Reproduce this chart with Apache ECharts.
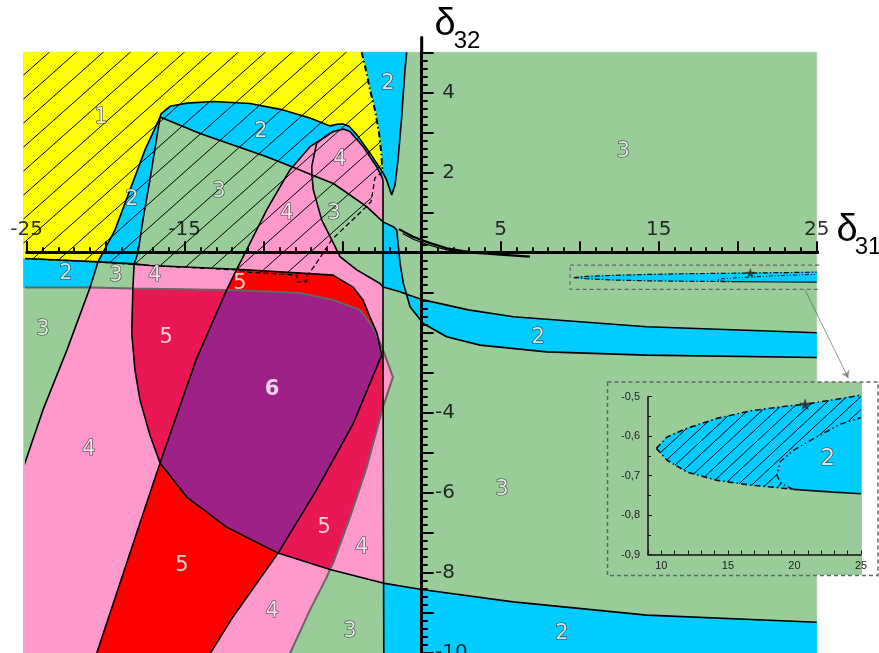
<!DOCTYPE html>
<html>
<head>
<meta charset="utf-8">
<script src="https://cdn.jsdelivr.net/npm/echarts@6/dist/echarts.min.js"></script>
<style>
  html, body { margin: 0; padding: 0; background: #fff; }
  #chart { width: 879px; height: 653px; }
</style>
</head>
<body>
<div id="chart"></div>
<script>
// tick labels that are printed on the axes
const xLabels = [-25, -15, 5, 15, 25];
const yLabels = [4, 2, -4, -6, -8, -10];

// boundary curves, [delta31, delta32] pairs
const curveC1 = [[-16.56,3.38],[-17.20,1.81],[-17.61,0.89],[-17.96,-0.02],[-18.20,-0.29],[-18.28,-0.905],[-18.35,-2.02],[-18.15,-2.94],[-17.83,-3.69],[-17.20,-4.57],[-16.56,-5.27],[-14.87,-6.12],[-12.34,-6.87],[-9.09,-7.52],[-5.80,-7.93],[-2.45,-8.27],[0,-8.43],[5.78,-8.74],[14.24,-9.07],[25,-9.25]];
const curveC2 = [[-16.56,3.38],[-17.51,2.56],[-18.46,1.56],[-19.41,0.56],[-20.49,-0.24],[-20.99,-0.88],[-22.45,-2.44],[-23.97,-3.94],[-25.2,-5.37]];
const curveC3 = [[-16.56,3.38],[-16.50,3.46],[-15.93,3.65],[-14.85,3.73],[-13.21,3.77],[-10.87,3.72],[-8.78,3.56],[-7.07,3.36],[-5.80,3.16],[-5.36,3.20],[-4.98,3.21],[-4.60,3.15],[-4.09,2.93],[-3.27,2.48],[-2.48,2.01]];
const curveC4 = [[-16.56,3.38],[-14.03,2.97],[-11.94,2.68],[-9.81,2.39],[-7.70,2.06],[-6.95,1.93],[-5.59,1.72],[-3.48,1.14],[-2.45,0.76],[-1.80,0.64],[-1.58,0.56]];
const curveC5 = [[-5.75,2.99],[-6.65,2.73],[-6.96,2.14],[-6.95,1.93],[-6.86,1.56],[-6.33,0.81],[-5.59,0.23],[-5.17,-0.11],[-4.11,-0.44],[-2.64,-0.78],[-2.45,-0.87],[-1.37,-0.985],[-0.96,-1.05],[0.10,-1.19],[2.95,-1.44],[5.80,-1.61],[14.24,-1.86],[25,-2.01]];
const curveC6 = [[-2.45,1.81],[-2.45,-2.5],[-2.40,-10.05]];
const curveC7 = [[-2.45,1.81],[-2.53,1.89],[-2.85,2.14],[-3.70,2.64],[-4.54,3.02],[-4.96,3.08],[-5.59,3.02],[-7.07,2.64],[-8.34,2.06],[-9.81,1.06],[-11.08,0.06],[-11.71,-0.425],[-12.34,-0.94],[-14.28,-2.69],[-16.56,-5.27],[-17.83,-6.77],[-20.59,-10.05]];
const curveC10 = [[-25.2,-0.155],[-20.49,-0.24],[-18.20,-0.29],[-17.20,-0.33],[-11.71,-0.425],[-7.70,-0.52],[-5.61,-0.57],[-4.35,-0.87],[-3.72,-1.19],[-3.27,-1.62],[-2.83,-2.02],[-2.53,-2.57],[-4.33,-4.28],[-6.65,-5.94],[-9.09,-7.52],[-11.94,-9.11],[-13.42,-10.05]];
const grayCurve = [[-25.2,-0.88],[-20.99,-0.88],[-18.28,-0.905],[-12.34,-0.94],[-11.94,-0.94],[-7.70,-1.02],[-5.61,-1.19],[-3.91,-1.44],[-3.08,-1.87],[-2.77,-2.14],[-2.45,-2.44],[-1.82,-3.12],[-2.45,-3.87],[-3.48,-5.37],[-4.54,-6.62],[-5.61,-7.77],[-5.80,-7.93],[-6.01,-8.12],[-7.07,-8.94],[-8.36,-10.05]];
const curveE = [[-1.58,0.56],[-1.37,-0.27],[-1.16,-0.78],[-0.96,-1.05],[-0.74,-1.36],[0.10,-1.78],[1.58,-2.11],[3.69,-2.32],[7.91,-2.49],[14.24,-2.57],[25,-2.63]];
const spikeEdge = [[-2.48,2.01],[-2.22,1.81],[-1.90,1.43],[-1.69,1.68],[-1.50,2.31],[-1.28,3.31],[-1.15,4.06],[-1.06,4.56],[-0.95,5]];
const yellowEdge = [[-3.80,5],[-3.53,4.56],[-3.27,4.06],[-2.96,3.56],[-2.70,2.98],[-2.58,2.56],[-2.48,2.01]];
const hatchEdge = [[-2.48,2.01],[-2.96,1.86],[-3.08,1.56],[-3.21,1.26],[-3.59,1.11],[-5.70,0.31],[-6.33,-0.07],[-6.75,-0.32],[-7.07,-0.49],[-7.26,-0.57],[-7.26,-0.74],[-7.89,-0.74],[-7.89,-0.57],[-10.87,-0.50],[-11.71,-0.44],[-17.20,-0.33],[-20.49,-0.24],[-25.2,-0.155]];
const curveC12a = [[-1.44,0.58],[-0.55,0.39],[0.53,0.23],[1.60,0.10],[2.61,0.03],[3.69,-0.02],[4.96,-0.06],[6.85,-0.11]];
const curveC12b = [[-1.20,0.47],[-0.50,0.32],[0.55,0.17],[1.60,0.06],[2.61,0.0],[3.69,-0.035]];

// coloured regions
const greenArea = [[-25.2,5],[25,5],[25,-10.05],[-25.2,-10.05]];
const yellowArea = [[-25.2,5],[-3.80,5],[-3.53,4.56],[-3.27,4.06],[-2.96,3.56],[-2.70,2.98],[-2.58,2.56],[-2.48,2.01],[-3.27,2.48],[-4.09,2.93],[-4.60,3.15],[-4.98,3.21],[-5.36,3.20],[-5.80,3.16],[-7.07,3.36],[-8.78,3.56],[-10.87,3.72],[-13.21,3.77],[-14.85,3.73],[-15.93,3.65],[-16.50,3.46],[-16.56,3.38],[-17.51,2.56],[-18.46,1.56],[-19.41,0.56],[-20.49,-0.24],[-25.2,-0.155]];
const spikeArea = [[-3.80,5],[-3.53,4.56],[-3.27,4.06],[-2.96,3.56],[-2.70,2.98],[-2.58,2.56],[-2.48,2.01],[-2.22,1.81],[-1.90,1.43],[-1.69,1.68],[-1.50,2.31],[-1.28,3.31],[-1.15,4.06],[-1.06,4.56],[-0.95,5]];
const armArea = [[-20.49,-0.24],[-19.41,0.56],[-18.46,1.56],[-17.51,2.56],[-16.56,3.38],[-17.20,1.81],[-17.61,0.89],[-17.96,-0.02],[-18.20,-0.29]];
const bandArea = [[-16.56,3.38],[-16.50,3.46],[-15.93,3.65],[-14.85,3.73],[-13.21,3.77],[-10.87,3.72],[-8.78,3.56],[-7.07,3.36],[-5.80,3.16],[-5.36,3.20],[-4.98,3.21],[-4.60,3.15],[-4.09,2.93],[-3.27,2.48],[-2.48,2.01],[-2.45,1.81],[-2.45,0.76],[-3.48,1.14],[-5.59,1.72],[-7.70,2.06],[-9.81,2.39],[-11.94,2.68],[-14.03,2.97]];
const stripLeftArea = [[-25.2,-0.155],[-20.49,-0.24],[-20.99,-0.88],[-25.2,-0.88]];
const pinkUpperArea = [[-11.08,0.06],[-9.81,1.06],[-8.34,2.06],[-7.07,2.64],[-5.59,3.02],[-4.96,3.08],[-4.54,3.02],[-3.70,2.64],[-2.85,2.14],[-2.53,1.89],[-2.45,1.81],[-2.45,-2.57],[-2.53,-2.57],[-2.83,-2.02],[-3.27,-1.62],[-3.72,-1.19],[-4.35,-0.87],[-5.61,-0.57],[-7.70,-0.52],[-11.71,-0.425]];
const pinkAxisArea = [[-18.20,-0.29],[-11.71,-0.425],[-12.34,-0.94],[-18.28,-0.905]];
const pinkLeftArea = [[-20.99,-0.88],[-18.28,-0.905],[-18.35,-2.02],[-18.15,-2.94],[-17.83,-3.69],[-17.20,-4.57],[-16.56,-5.27],[-17.83,-6.77],[-20.59,-10.05],[-25.2,-10.05],[-25.2,-5.37],[-23.97,-3.94],[-22.45,-2.44]];
const pinkRightArea = [[-2.45,-2.44],[-1.82,-3.12],[-2.45,-3.87],[-3.48,-5.37],[-4.54,-6.62],[-5.61,-7.77],[-5.80,-7.93],[-2.45,-8.27]];
const pinkBottomArea = [[-9.09,-7.52],[-5.80,-7.93],[-6.01,-8.12],[-7.07,-8.94],[-8.36,-10.05],[-13.42,-10.05],[-11.94,-9.11]];
const pocketArea = [[-6.95,1.93],[-6.86,1.56],[-6.33,0.81],[-5.59,0.23],[-5.17,-0.11],[-4.11,-0.44],[-2.64,-0.78],[-2.45,-0.87],[-2.45,0.76],[-3.48,1.14],[-5.59,1.72]];
const stripArea = [[-2.45,0.76],[-1.80,0.64],[-1.58,0.56],[-1.37,-0.27],[-1.16,-0.78],[-0.96,-1.05],[-1.37,-0.985],[-2.45,-0.87]];
const bandRightArea = [[-0.96,-1.05],[-0.74,-1.36],[0.10,-1.78],[1.58,-2.11],[3.69,-2.32],[7.91,-2.49],[14.24,-2.57],[25,-2.63],[25,-2.01],[14.24,-1.86],[5.80,-1.61],[2.95,-1.44],[0.10,-1.19]];
const bandBottomArea = [[-2.45,-8.27],[0,-8.43],[5.78,-8.74],[14.24,-9.07],[25,-9.25],[25,-10.05],[-2.40,-10.05]];
const crimsonLeftArea = [[-18.28,-0.905],[-12.34,-0.94],[-14.28,-2.69],[-16.56,-5.27],[-17.20,-4.57],[-17.83,-3.69],[-18.15,-2.94],[-18.35,-2.02]];
const crimsonRightArea = [[-2.53,-2.57],[-2.45,-2.6],[-2.45,-3.87],[-3.48,-5.37],[-4.54,-6.62],[-5.61,-7.77],[-5.80,-7.93],[-9.09,-7.52],[-6.65,-5.94],[-4.33,-4.28]];
const purpleArea = [[-12.34,-0.94],[-11.94,-0.94],[-7.70,-1.02],[-5.61,-1.19],[-3.91,-1.44],[-3.08,-1.87],[-2.77,-2.14],[-2.53,-2.57],[-4.33,-4.28],[-6.65,-5.94],[-9.09,-7.52],[-12.34,-6.87],[-14.87,-6.12],[-16.56,-5.27],[-14.28,-2.69]];
const redTopArea = [[-11.71,-0.425],[-7.70,-0.52],[-5.61,-0.57],[-4.35,-0.87],[-3.72,-1.19],[-3.27,-1.62],[-2.83,-2.02],[-2.77,-2.14],[-3.08,-1.87],[-3.91,-1.44],[-5.61,-1.19],[-7.70,-1.02],[-11.94,-0.94],[-12.34,-0.94]];
const redBottomArea = [[-16.56,-5.27],[-14.87,-6.12],[-12.34,-6.87],[-9.09,-7.52],[-11.94,-9.11],[-13.42,-10.05],[-20.59,-10.05],[-17.83,-6.77]];
const hatchArea = [[-25.2,5]].concat(yellowEdge, hatchEdge.slice(1));

// the small closed region near delta32 = -0.6 (also shown enlarged in the inset)
const sliverTop = [[9.63,-0.631],[10.43,-0.602],[11.93,-0.58],[14.18,-0.555],[16.68,-0.536],[19.17,-0.525],[20.8,-0.519],[22.92,-0.508],[25,-0.496]];
const sliverBottom = [[9.63,-0.631],[10.43,-0.661],[11.93,-0.691],[14.18,-0.712],[16.68,-0.724],[18.93,-0.731],[19.92,-0.735],[22.92,-0.742],[25,-0.746]];
const sliverInner = [[19.92,-0.735],[19.0,-0.72],[18.68,-0.699],[18.93,-0.665],[19.92,-0.636],[21.67,-0.602],[23.4,-0.57],[25,-0.553]];
const starPoint = [20.8, -0.519];
const zoomBox = [[9.39,-0.32],[25.32,-0.32],[25.32,-0.925],[9.39,-0.925],[9.39,-0.32]];
const zoomArrow = [[24.26,-0.94],[27.0,-3.14]];
const axisExtX = [[25,0],[27.55,0]];
const axisExtY = [[0,5],[0,5.4]];

const sliverArea = sliverTop.concat(sliverBottom.slice(1).reverse());
const sliverHatch = sliverTop.concat(sliverInner.slice().reverse(), sliverBottom.slice(1, 6).reverse());

// region numbers
const regionLabels = [[-20.30,3.38,'1'],[-10.17,3.03,'2'],[-2.13,4.23,'2'],[-18.34,1.31,'2'],[-12.83,1.51,'3'],[-5.17,2.31,'4'],[-8.53,0.98,'4'],[-5.55,0.98,'3'],[12.75,2.51,'3'],[-22.51,-0.54,'2'],[-19.35,-0.59,'3'],[-16.88,-0.59,'4'],[-11.50,-0.77,'5'],[-23.97,-1.94,'3'],[-16.18,-2.14,'5'],[-9.47,-3.42,'6'],[-21.06,-4.92,'4'],[-15.17,-7.82,'5'],[-6.18,-6.87,'5'],[-3.78,-7.39,'4'],[-9.47,-8.99,'4'],[-4.54,-9.49,'3'],[7.37,-2.14,'2'],[5.08,-5.92,'3'],[8.88,-9.52,'2']];
const insetLabels = [[22.5,-0.657,'2']];

const C = { green:'#99CC99', blue:'#00CCFF', yellow:'#FFFF00', pink:'#FF99CC', red:'#FF0000', crimson:'#E91754', purple:'#9E2188' };
const FONT = 'Liberation Sans';
const WIDE = 'DejaVu Sans';

function hatch(w, h, lw) {
  const c = document.createElement('canvas');
  c.width = w; c.height = h;
  const g = c.getContext('2d');
  g.strokeStyle = '#000';
  g.lineWidth = lw;
  g.beginPath();
  for (const dx of [-w, 0, w]) {
    g.moveTo(dx - w, 2 * h);
    g.lineTo(dx + 2 * w, -h);
  }
  g.stroke();
  return { image: c, repeat: 'repeat' };
}

function area(pts, fill, ax, seam) {
  ax = ax || 0;
  return {
    type: 'custom', silent: true, clip: false, z: 2,
    xAxisIndex: ax, yAxisIndex: ax,
    data: [[0, 0]],
    renderItem: (params, api) => ({
      type: 'polygon',
      shape: { points: pts.map(p => api.coord(p)) },
      style: { fill: fill, stroke: seam === false ? null : fill, lineWidth: 0.6 }
    })
  };
}

function edge(pts, color, width, type, ax, z) {
  ax = ax || 0;
  return {
    type: 'line', silent: true, clip: false, z: z || 3,
    xAxisIndex: ax, yAxisIndex: ax,
    data: pts, showSymbol: false, symbol: 'none',
    lineStyle: { color: color, width: width, type: type || 'solid' }
  };
}

function labels(list, ax, size) {
  return {
    type: 'scatter', silent: true, z: 6,
    xAxisIndex: ax, yAxisIndex: ax,
    symbolSize: 1, itemStyle: { color: 'rgba(0,0,0,0)' },
    data: list.map(d => {
      const plain = d[2] === '5' || d[2] === '6';
      return {
        value: [d[0], d[1]], name: d[2],
        label: plain ? { textBorderWidth: 0, fontWeight: d[2] === '6' ? 'bold' : 'normal' } : {}
      };
    }),
    label: {
      show: true, position: 'inside', formatter: '{b}',
      fontSize: size, fontFamily: WIDE, color: '#fff',
      textBorderColor: '#222', textBorderWidth: 1.2
    }
  };
}

// tick labels of the main axes sit next to the axes that cross at the origin
function tickText(points, offset, align, fmt) {
  return {
    type: 'scatter', silent: true, z: 11, clip: false,
    xAxisIndex: 0, yAxisIndex: 0,
    symbolSize: 1, itemStyle: { color: 'rgba(0,0,0,0)' },
    data: points,
    label: {
      show: true, position: 'inside', offset: offset, align: align,
      fontSize: 20, fontFamily: WIDE, color: '#000',
      formatter: fmt,
      rich: { h: { color: 'rgba(0,0,0,0)', fontSize: 20, fontFamily: WIDE } }
    }
  };
}

const hatchMain = hatch(27, 24, 1);
const hatchInset = hatch(14, 13, 1);
const starPath = 'path://M0,-10L2.35,-3.24L9.51,-3.09L3.8,1.24L5.88,8.09L0,4L-5.88,8.09L-3.8,1.24L-9.51,-3.09L-2.35,-3.24Z';
const dashDot = [6, 3, 1.5, 3];
const dashDotDot = [6, 3, 1.5, 3, 1.5, 3];

const series = [
  area(greenArea, C.green),
  area(armArea, C.blue), area(bandArea, C.blue), area(stripLeftArea, C.blue), area(spikeArea, C.blue),
  area(yellowArea, C.yellow),
  area(pinkUpperArea, C.pink), area(pinkAxisArea, C.pink), area(pinkLeftArea, C.pink),
  area(pinkRightArea, C.pink), area(pinkBottomArea, C.pink),
  area(pocketArea, C.green),
  area(stripArea, C.blue), area(bandRightArea, C.blue), area(bandBottomArea, C.blue),
  area(crimsonLeftArea, C.crimson), area(crimsonRightArea, C.crimson), area(purpleArea, C.purple),
  area(redTopArea, C.red), area(redBottomArea, C.red),
  area(sliverArea, C.blue),
  area(hatchArea, hatchMain, 0, false),

  edge(grayCurve, '#666', 2),
  edge(curveC1, '#000', 1.6), edge(curveC2, '#000', 1.6), edge(curveC3, '#000', 1.6),
  edge(curveC4, '#000', 1.6), edge(curveC5, '#000', 1.6), edge(curveC6, '#000', 1.6),
  edge(curveC7, '#000', 1.6), edge(curveC10, '#000', 1.6), edge(curveE, '#000', 1.6),
  edge(spikeEdge, '#000', 1.6),
  edge(curveC12a, '#000', 2.2), edge(curveC12b, '#000', 1.2),
  edge(yellowEdge, '#000', 2, dashDot),
  edge(hatchEdge, '#000', 1.3, [5, 3]),
  edge(sliverTop, '#111', 1.2, [5, 2, 1.5, 2]),
  edge(sliverBottom.slice(0, 7), '#111', 1.2, [5, 2, 1.5, 2]),
  edge(sliverBottom.slice(6), '#111', 1.2),
  edge(sliverInner, '#111', 1, [4, 2, 1, 2, 1, 2]),
  edge(zoomBox, '#666', 1.2, [4, 3]),
  {
    type: 'lines', coordinateSystem: 'cartesian2d', silent: true, clip: false, z: 3,
    xAxisIndex: 0, yAxisIndex: 0,
    symbol: ['none', 'arrow'], symbolSize: 7,
    lineStyle: { color: '#333', width: 1 },
    data: [{ coords: zoomArrow }]
  },
  {
    type: 'scatter', silent: true, z: 5, xAxisIndex: 0, yAxisIndex: 0,
    symbol: starPath, symbolSize: 10, itemStyle: { color: '#222' }, data: [starPoint]
  },
  edge(axisExtX, '#000', 3, 'solid', 0, 10),
  edge(axisExtY, '#000', 3, 'solid', 0, 10),
  labels(regionLabels, 0, 21),
  tickText(xLabels.map(v => [v, 0]), [0, -23], 'center', p => String(p.value[0])),
  tickText(yLabels.map(v => [0, v]), [13.3, 0], 'left',
    p => (p.value[1] > 0 ? '{h|-}' + p.value[1] : String(p.value[1]))),

  // inset
  Object.assign(area(sliverArea, C.blue, 1), { z: 20 }),
  Object.assign(area(sliverHatch, hatchInset, 1, false), { z: 21 }),
  edge(sliverTop, '#111', 1.6, dashDot, 1, 22),
  edge(sliverBottom.slice(0, 7), '#111', 1.6, dashDot, 1, 22),
  edge(sliverBottom.slice(6), '#111', 1.6, 'solid', 1, 22),
  edge(sliverInner, '#111', 1.4, dashDotDot, 1, 22),
  {
    type: 'scatter', silent: true, z: 23, xAxisIndex: 1, yAxisIndex: 1,
    symbol: starPath, symbolSize: 12, itemStyle: { color: '#222' }, data: [starPoint]
  },
  Object.assign(labels(insetLabels, 1, 23), { z: 24 })
];

const chart = echarts.init(document.getElementById('chart'), null, { renderer: 'canvas' });
chart.setOption({
  animation: false,
  backgroundColor: '#fff',
  grid: [
    { left: 26.7, right: 62.3, top: 52.3, bottom: 0.7, containLabel: false, outerBoundsMode: 'none' },
    { left: 648, right: 18, top: 396.7, bottom: 98.5, containLabel: false, outerBoundsMode: 'none' }
  ],
  xAxis: [
    {
      type: 'value', gridIndex: 0, min: -25, max: 25, interval: 5, z: 10,
      axisLine: { onZero: true, lineStyle: { color: '#000', width: 3 } },
      axisTick: { inside: true, length: 11, lineStyle: { color: '#000', width: 2 } },
      minorTick: { show: true, splitNumber: 5, length: 5, lineStyle: { color: '#000', width: 2 } },
      axisLabel: { show: false },
      splitLine: { show: false }, minorSplitLine: { show: false }
    },
    {
      type: 'value', gridIndex: 1, min: 9, max: 25, interval: 1, z: 25,
      axisLine: { onZero: false, lineStyle: { color: '#111', width: 1.5 } },
      axisTick: { inside: true, length: 4, lineStyle: { color: '#111', width: 1 } },
      axisLabel: {
        margin: 6, fontSize: 11, fontFamily: FONT, color: '#222',
        showMinLabel: true, showMaxLabel: true,
        formatter: v => (v % 5 === 0 ? String(v) : '')
      },
      splitLine: { show: false }
    }
  ],
  yAxis: [
    {
      type: 'value', gridIndex: 0, min: -10, max: 5, interval: 1, z: 10,
      axisLine: { onZero: true, lineStyle: { color: '#000', width: 3 } },
      axisTick: { inside: true, length: 12, lineStyle: { color: '#000', width: 2 } },
      minorTick: { show: true, splitNumber: 5, length: 6, lineStyle: { color: '#000', width: 2 } },
      axisLabel: { show: false },
      splitLine: { show: false }, minorSplitLine: { show: false }
    },
    {
      type: 'value', gridIndex: 1, min: -0.9, max: -0.5, interval: 0.1, z: 25,
      axisLine: { onZero: false, lineStyle: { color: '#111', width: 1.5 } },
      axisTick: { inside: true, length: 4, lineStyle: { color: '#111', width: 1 } },
      minorTick: { show: true, splitNumber: 2, length: 3, lineStyle: { color: '#111', width: 1 } },
      axisLabel: {
        margin: 8, fontSize: 11, fontFamily: FONT, color: '#222',
        formatter: v => v.toFixed(1).replace('.', ',')
      },
      splitLine: { show: false }
    }
  ],
  graphic: [
    { type: 'rect', z: 15, silent: true, shape: { x: 608, y: 382, width: 254, height: 193 }, style: { fill: C.green } },
    { type: 'rect', z: 16, silent: true, shape: { x: 607.5, y: 382, width: 270.5, height: 193.5 },
      style: { fill: 'none', stroke: '#666', lineWidth: 1.5, lineDash: [4, 3] } },
    { type: 'text', z: 30, x: 445, y: 25, style: { text: 'δ', font: '38px "Liberation Sans"', fill: '#000', align: 'center', verticalAlign: 'middle', textAlign: 'center', textVerticalAlign: 'middle' } },
    { type: 'text', z: 30, x: 467, y: 41, style: { text: '32', font: '24px "Liberation Sans"', fill: '#000', align: 'center', verticalAlign: 'middle', textAlign: 'center', textVerticalAlign: 'middle' } },
    { type: 'text', z: 30, x: 847, y: 231, style: { text: 'δ', font: '38px "Liberation Sans"', fill: '#000', align: 'center', verticalAlign: 'middle', textAlign: 'center', textVerticalAlign: 'middle' } },
    { type: 'text', z: 30, x: 868, y: 247, style: { text: '31', font: '24px "Liberation Sans"', fill: '#000', align: 'center', verticalAlign: 'middle', textAlign: 'center', textVerticalAlign: 'middle' } }
  ],
  series: series
});
</script>
</body>
</html>
